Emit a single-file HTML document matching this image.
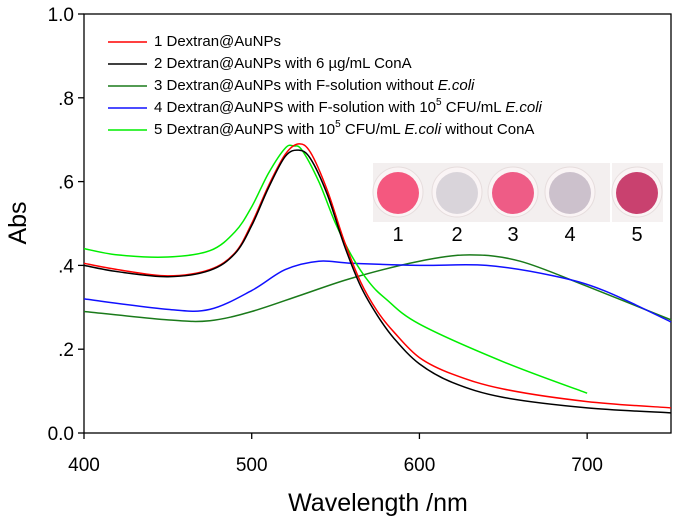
<!DOCTYPE html>
<html><head><meta charset="utf-8"><style>
body{margin:0;background:#fff;}
svg{display:block;font-family:"Liberation Sans",Arial,sans-serif;}
</style></head><body>
<svg id="chart" width="675" height="529">
<g id="axes"></g>
<g id="series"></g>
<g id="legend"></g>
<g id="photo">
 <rect x="373" y="163" width="237" height="59" fill="#f3efef"/>
 <rect x="612" y="163" width="51" height="59" fill="#f5f1f1"/>
</g>
</svg>
<script>
const wavelengths1=[400,420,450,475,490,500,510,520,528,535,545,555,565,575,585,600,620,650,700,750];
const red1=[0.405,0.39,0.375,0.39,0.43,0.50,0.59,0.665,0.69,0.67,0.58,0.46,0.36,0.29,0.24,0.18,0.14,0.105,0.075,0.06];
const black2=[0.40,0.385,0.373,0.388,0.428,0.495,0.585,0.66,0.675,0.655,0.57,0.45,0.35,0.28,0.225,0.165,0.12,0.085,0.06,0.048];
const wavelengths3=[400,450,475,500,530,560,600,630,660,700,750];
const darkgreen3=[0.29,0.27,0.268,0.29,0.33,0.37,0.41,0.425,0.41,0.35,0.27];
const wavelengths4=[400,450,475,500,520,540,560,600,640,680,710,750];
const blue4=[0.32,0.295,0.295,0.34,0.39,0.41,0.405,0.40,0.40,0.375,0.34,0.265];
const wavelengths5=[400,420,450,475,490,500,510,520,525,530,540,550,560,570,580,600,650,700];
const lime5=[0.44,0.425,0.42,0.435,0.48,0.54,0.62,0.68,0.685,0.675,0.6,0.5,0.42,0.36,0.32,0.26,0.17,0.095];
const xTicks=[400,500,600,700];
const yTicks=[0,0.2,0.4,0.6,0.8,1.0];
const yTickLabels=["0.0",".2",".4",".6",".8","1.0"];
const legendLabels=["1 Dextran@AuNPs","2 Dextran@AuNPs with 6 \u00b5g/mL ConA","3 Dextran@AuNPs with F-solution without <i>E.coli</i>","4 Dextran@AuNPS with F-solution with 10<sup>5</sup> CFU/mL <i>E.coli</i>","5 Dextran@AuNPS with 10<sup>5</sup> CFU/mL <i>E.coli</i> without ConA"];

const L=84,R=671,T=14,B=433;
const X=w=>L+(w-400)*(R-L)/350;
const Y=a=>B-a*(B-T);
const NS="http://www.w3.org/2000/svg";
function mk(tag,attrs,parent){const e=document.createElementNS(NS,tag);for(const k in attrs)e.setAttribute(k,attrs[k]);parent.appendChild(e);return e;}
const axes=document.getElementById('axes');
let f=mk('rect',{x:L,y:T,width:R-L,height:B-T,fill:'none',stroke:'#000','stroke-width':1.3},axes);


xTicks.forEach(t=>{
 let l=mk('line',{x1:X(t),x2:X(t),y1:B,y2:B+6,stroke:'#000','stroke-width':1.3},axes);
 
 
 let tx=mk('text',{x:X(t),y:B+38,'text-anchor':'middle','font-size':19},axes);tx.textContent=t;
 
 
});
yTicks.forEach((t,i)=>{
 let l=mk('line',{x1:L-6,x2:L,y1:Y(t),y2:Y(t),stroke:'#000','stroke-width':1.3},axes);
 
 
 let tx=mk('text',{x:L-10,y:Y(t)+7,'text-anchor':'end','font-size':19},axes);tx.textContent=yTickLabels[i];
 
 
});
let xt=mk('text',{x:378,y:511,'text-anchor':'middle','font-size':25},axes);xt.textContent='Wavelength /nm';


let yt=mk('text',{x:0,y:0,'text-anchor':'middle','font-size':25,transform:'translate(26,223) rotate(-90)'},axes);yt.textContent='Abs';



function pathD(ws,vs){
 const p=ws.map((w,i)=>[X(w),Y(vs[i])]);
 let d='M'+p[0][0]+','+p[0][1];
 for(let i=0;i<p.length-1;i++){
  const p0=p[i-1]||p[i],p1=p[i],p2=p[i+1],p3=p[i+2]||p2;
  const c1=[p1[0]+(p2[0]-p0[0])/6,p1[1]+(p2[1]-p0[1])/6];
  const c2=[p2[0]-(p3[0]-p1[0])/6,p2[1]-(p3[1]-p1[1])/6];
  d+=` C${c1[0]},${c1[1]} ${c2[0]},${c2[1]} ${p2[0]},${p2[1]}`;
 }
 return d;
}
const sg=document.getElementById('series');
const series=[[wavelengths3,darkgreen3,'#1a7a1a','series-3-darkgreen'],[wavelengths4,blue4,'#1010ff','series-4-blue'],[wavelengths5,lime5,'#00ee00','series-5-lime'],[wavelengths1,red1,'#ff0000','series-1-red'],[wavelengths1,black2,'#000000','series-2-black']];
series.forEach(s=>{
 let p=mk('path',{d:pathD(s[0],s[1]),fill:'none',stroke:s[2],'stroke-width':1.5},sg);
 
 
});
const lg=document.getElementById('legend');
const lcolors=['#ff0000','#000000','#1a7a1a','#1010ff','#00ee00'];
const ly=[42,64,86,108,130];
legendLabels.forEach((lab,i)=>{
 let l=mk('line',{x1:108,x2:147,y1:ly[i],y2:ly[i],stroke:lcolors[i],'stroke-width':1.5},lg);
 
 
 let fo=mk('foreignObject',{x:154,y:ly[i]-12,width:515,height:24},lg);
 
 
 const div=document.createElement('div');
 div.style.cssText='font:15px "Liberation Sans",Arial,sans-serif;line-height:24px;white-space:nowrap;';
 div.innerHTML=lab.replace(/<sup>/g,'<sup style="font-size:10px;vertical-align:7px;line-height:0">');
 fo.appendChild(div);
});
const ph=document.getElementById('photo');
const wells=[[398,'#f4587f'],[457,'#d9d4da'],[513,'#ee5c86'],[570,'#ccc1cc'],[637,'#c9416f']];
wells.forEach((w,i)=>{
 let c=mk('circle',{cx:w[0],cy:192,r:25,fill:'#faf4f5',stroke:'#e6dddd'},ph);
 
 
 let c2=mk('circle',{cx:w[0],cy:193,r:21,fill:w[1]},ph);
 
 
 let t=mk('text',{x:w[0],y:241,'text-anchor':'middle','font-size':20},ph);t.textContent=i+1;
 
 
});
</script>
</body></html>
